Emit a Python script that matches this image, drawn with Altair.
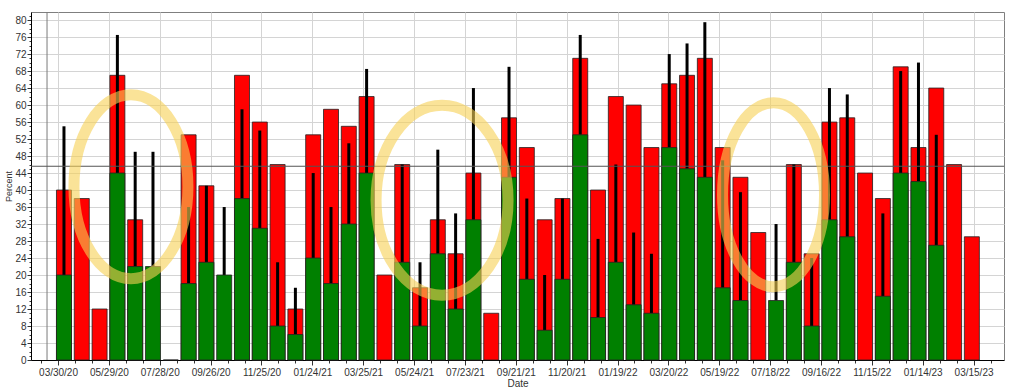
import altair as alt
import pandas as pd
from datetime import date, timedelta

# ---------------- data ----------------
DATES = [
    "2020-04-06", "2020-04-27", "2020-05-18", "2020-06-08", "2020-06-29", "2020-07-20",
    "2020-08-10", "2020-08-31", "2020-09-21", "2020-10-12", "2020-11-02", "2020-11-23",
    "2020-12-14", "2021-01-04", "2021-01-25", "2021-02-15", "2021-03-08", "2021-03-29",
    "2021-04-19", "2021-05-10", "2021-05-31", "2021-06-21", "2021-07-12", "2021-08-02",
    "2021-08-23", "2021-09-13", "2021-10-04", "2021-10-25", "2021-11-15", "2021-12-06",
    "2021-12-27", "2022-01-17", "2022-02-07", "2022-02-28", "2022-03-21", "2022-04-11",
    "2022-05-02", "2022-05-23", "2022-06-13", "2022-07-04", "2022-07-25", "2022-08-15",
    "2022-09-05", "2022-09-26", "2022-10-17", "2022-11-07", "2022-11-28", "2022-12-19",
    "2023-01-09", "2023-01-30", "2023-02-20", "2023-03-13",
]
RED = [
    40, 38, 12, 67, 33, None, 0, 53, 41, None, 67, 56, 46, 12, 53, 59, 55, 62,
    20, 46, 17, 33, 25, 44, 11, 57, 50, 33, 38, 71, 40, 62, 60, 50, 65, 67,
    71, 50, 43, 30, None, 46, 25, 56, 57, 44, 38, 69, 50, 64, 46, 29,
]
GREEN = [
    20, None, None, 44, 22, 22, None, 18, 23, 20, 38, 31, 8, 6, 24, 18, 32, 44,
    None, 23, 8, 25, 12, 33, None, 43, 19, 7, 19, 53, 10, 23, 13, 11, 50, 45,
    43, 17, 14, None, 14, 23, 8, 33, 29, None, 15, 44, 42, 27, None, None,
]
ERR_HI = [
    55, None, None, 76.5, 49, 49, None, 36, 41, 36, 59, 54, 23, 17, 44, 36, 51, 68.5,
    None, 46, 23, 49.5, 34.5, 64, None, 69, 38, 20, 38, 76.5, 28.5, 46, 30, 25, 72, 74.5,
    79.5, 47, 39.5, None, 32, 46, 24, 64, 62.5, None, 34.5, 68, 70, 53, None, None,
]
X_TICKS = [
    "2020-03-30", "2020-05-29", "2020-07-28", "2020-09-26", "2020-11-25", "2021-01-24",
    "2021-03-25", "2021-05-24", "2021-07-23", "2021-09-21", "2021-11-20", "2022-01-19",
    "2022-03-20", "2022-05-19", "2022-07-18", "2022-09-16", "2022-11-15", "2023-01-14",
    "2023-03-15",
]
Y_TICKS = [0, 4, 8, 12, 16, 20, 24, 28, 32, 36, 40, 44, 48, 52, 56, 60, 64, 68, 72, 76, 80]
REF_LEVEL = [45.6]
MARK_DATE = ["2020-03-17"]
ANNOT_IDS = ["a", "b", "c"]
ANNOT_DATES = ["2020-06-24", "2021-06-26", "2022-07-22"]
ANNOT_VALUES = [40.8, 37.6, 38.9]

# ---------------- helpers ----------------
def ts(s):
    return s + "T00:00:00"


def dt(s):
    y, m, d = map(int, s.split("-"))
    return alt.DateTime(year=y, month=m, date=d)


# minor x ticks every 20 days between the 60-day major ticks
minor = []
for s in X_TICKS:
    d0 = date.fromisoformat(s)
    for k in (0, 20, 40):
        minor.append((d0 + timedelta(days=k)).isoformat())
minor.insert(0, (date.fromisoformat(X_TICKS[0]) - timedelta(days=20)).isoformat())

major_test = "round((datum.value - datetime(2020, 2, 30)) / 86400000) % 60 == 0"

X = alt.X(
    "date:T",
    title="Date",
    scale=alt.Scale(domain=[dt("2020-03-04"), dt("2023-04-14")]),
    axis=alt.Axis(
        values=[dt(s) for s in minor],
        format="%m/%d/%y",
        labelExpr=f"({major_test}) ? datum.label : ''",
        grid=True,
        gridColor="#d4d4d4",
        gridOpacity={"condition": {"test": major_test, "value": 1}, "value": 0},
        tickSize={"condition": {"test": major_test, "value": 5}, "value": 3},
        tickColor="#333",
        domainColor="#000",
        labelFont="Liberation Sans",
        labelFontSize=10,
        labelColor="#333",
        labelPadding=2,
        labelOverlap=False,
        titleFont="Liberation Sans",
        titleFontSize=10,
        titleFontWeight="normal",
        titleColor="#333",
        titlePadding=1,
    ),
)


def Y(field):
    return alt.Y(
        f"{field}:Q",
        title="Percent",
        scale=alt.Scale(domain=[0, 81.9], nice=False, zero=True),
        axis=alt.Axis(
            values=list(range(0, 82)),
            labelExpr="datum.value % 4 == 0 ? datum.label : ''",
            grid=True,
            gridColor="#d4d4d4",
            gridOpacity={"condition": {"test": "datum.value % 4 == 0", "value": 1}, "value": 0},
            tickSize={"condition": {"test": "datum.value % 4 == 0", "value": 4}, "value": 2},
            tickColor="#333",
            domainColor="#000",
            labelFont="Liberation Sans",
            labelFontSize=10,
            labelColor="#333",
            labelPadding=1,
            titleFont="Liberation Sans",
            titleFontSize=9,
            titleFontWeight="normal",
            titleColor="#333",
            titleX=-18,
        ),
    )


df = pd.DataFrame({
    "date": [ts(d) for d in DATES],
    "red": RED,
    "green": GREEN,
    "hi": ERR_HI,
})

base = alt.Chart(df)

red_bars = base.mark_bar(size=15, color="#ff0000", stroke="#222", strokeWidth=0.8).encode(
    x=X, y=Y("red")
)
err = base.mark_rule(color="#000", strokeWidth=3).encode(
    x=X, y=Y("green"), y2="hi:Q"
)
green_bars = base.mark_bar(size=15, color="#008000", stroke="#222", strokeWidth=0.8).encode(
    x=X, y=Y("green")
)

vline = alt.Chart(pd.DataFrame({"date": [ts(d) for d in MARK_DATE]})).mark_rule(
    color="#7a7a7a", strokeWidth=1
).encode(x=X)

hline = alt.Chart(pd.DataFrame({"v": REF_LEVEL})).mark_rule(
    color="#555", strokeWidth=1.2
).encode(y=Y("v"))


def ellipse(rx, ry):
    k = 0.5523
    return (
        f"M0,{-ry} C{k*rx:.1f},{-ry} {rx},{-k*ry:.1f} {rx},0 "
        f"C{rx},{k*ry:.1f} {k*rx:.1f},{ry} 0,{ry} "
        f"C{-k*rx:.1f},{ry} {-rx},{k*ry:.1f} {-rx},0 "
        f"C{-rx},{-k*ry:.1f} {-k*rx:.1f},{-ry} 0,{-ry} Z"
    )


annot_df = pd.DataFrame({
    "id": ANNOT_IDS,
    "date": [ts(d) for d in ANNOT_DATES],
    "v": ANNOT_VALUES,
})
annot = alt.Chart(annot_df).mark_point(
    filled=False, size=4, stroke="#f7d154", strokeWidth=11, opacity=0.6
).encode(
    x=X,
    y=Y("v"),
    shape=alt.Shape(
        "id:N",
        scale=alt.Scale(
            domain=ANNOT_IDS,
            range=[ellipse(57, 92), ellipse(66, 95), ellipse(51, 92)],
        ),
        legend=None,
    ),
)

chart = alt.layer(vline, red_bars, err, green_bars, hline, annot).properties(
    width=973,
    height=348,
    autosize=alt.AutoSizeParams(type="none"),
    padding={"left": 31, "top": 12, "right": 20, "bottom": 29},
    background="white",
).configure_view(stroke="#7f7f7f", strokeWidth=1)

chart.save("out.html", embed_options={"renderer": "svg", "actions": False})
